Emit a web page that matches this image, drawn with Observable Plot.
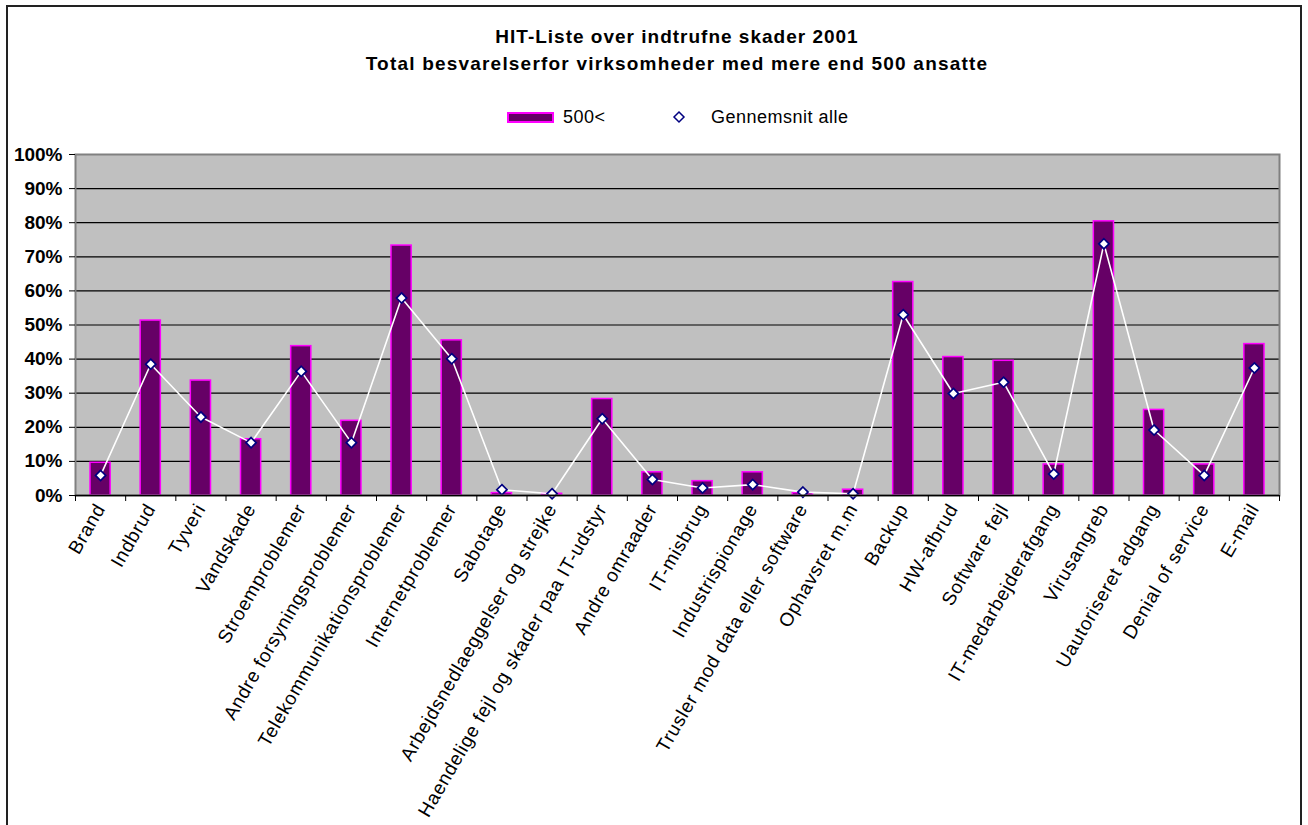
<!DOCTYPE html>
<html>
<head>
<meta charset="utf-8">
<script src="https://cdn.jsdelivr.net/npm/d3@7"></script>
<script src="https://cdn.jsdelivr.net/npm/@observablehq/plot@0.6"></script>
<style>
  html, body { margin: 0; padding: 0; background: #fff; }
  body { width: 1308px; height: 825px; position: relative; overflow: hidden;
         font-family: "Liberation Sans", Arial, sans-serif; color: #000; }
  #frame { position: absolute; left: 6px; top: 5px; width: 1296px; height: 840px;
           border: 2px solid #222; box-sizing: border-box; }
  .title { position: absolute; left: 75px; width: 1204px; text-align: center;
           font-weight: bold; font-size: 19px; line-height: 22px; letter-spacing: 1px; white-space: nowrap; }
  .leg { position: absolute; font-size: 18px; line-height: 22px; white-space: nowrap; letter-spacing: 0.5px; }
  #chart { position: absolute; left: 0; top: 140px; }
  g[aria-label="x-axis tick label"] text { letter-spacing: 0.7px; }
</style>
</head>
<body>
<div id="frame"></div>
<div class="title" style="top:26px">HIT-Liste over indtrufne skader 2001</div>
<div class="title" style="top:53px;letter-spacing:1.2px">Total besvarelserfor virksomheder med mere end 500 ansatte</div>
<div style="position:absolute;left:507px;top:112px;width:47px;height:11px;background:#660066;border:2px solid #ff00ff;box-sizing:border-box"></div>
<div class="leg" style="left:563px;top:106px">500&lt;</div>
<svg style="position:absolute;left:672px;top:110px" width="14" height="14"><path d="M7,2L12,7L7,12L2,7Z" fill="#fff" stroke="#000080" stroke-width="1.5"/></svg>
<div class="leg" style="left:711px;top:106px">Gennemsnit alle</div>
<div id="chart"></div>
<script>
const categories = [
  "Brand", "Indbrud", "Tyveri", "Vandskade", "Stroemproblemer",
  "Andre forsyningsproblemer", "Telekommunikationsproblemer", "Internetproblemer",
  "Sabotage", "Arbejdsnedlaeggelser og strejke", "Haendelige fejl og skader paa IT-udstyr",
  "Andre omraader", "IT-misbrug", "Industrispionage", "Trusler mod data eller software",
  "Ophavsret m.m", "Backup", "HW-afbrud", "Software fejl", "IT-medarbejderafgang",
  "Virusangreb", "Uautoriseret adgang", "Denial of service", "E-mail"
];
const values500 = [
  0.096, 0.513, 0.337, 0.165, 0.438, 0.219, 0.733, 0.455, 0.007, 0.005, 0.283, 0.068,
  0.042, 0.068, 0.007, 0.017, 0.626, 0.406, 0.395, 0.091, 0.804, 0.251, 0.091, 0.444
];
const avgAll = [
  0.059, 0.385, 0.230, 0.155, 0.364, 0.155, 0.579, 0.401, 0.017, 0.005, 0.225, 0.047,
  0.022, 0.032, 0.010, 0.005, 0.530, 0.299, 0.332, 0.063, 0.738, 0.192, 0.059, 0.374
];
const yTicks = [0, 0.1, 0.2, 0.3, 0.4, 0.5, 0.6, 0.7, 0.8, 0.9, 1.0];

const n = categories.length;
const rows = categories.map((c, i) => ({i, c, v: values500[i], a: avgAll[i]}));
const mid = d => d.i + 0.5;

const chart = Plot.plot({
  width: 1308,
  height: 685,
  marginTop: 14,
  marginLeft: 75,
  marginRight: 29,
  marginBottom: 330,
  style: {fontFamily: "'Liberation Sans', Arial, sans-serif", background: "transparent", overflow: "visible", color: "#000"},
  x: {type: "linear", domain: [0, n], axis: null},
  y: {domain: [0, 1], axis: null},
  marks: [
    Plot.frame({fill: "#c0c0c0", stroke: "none"}),
    Plot.gridY(yTicks, {stroke: "#000", strokeOpacity: 1, strokeWidth: 1.2}),
    Plot.rectY(rows, {x1: "i", x2: d => d.i + 1, y: "v", insetLeft: 15, insetRight: 15,
      fill: "#660066", stroke: "#ff00ff", strokeWidth: 1.5}),
    Plot.line(rows, {x: mid, y: "a", stroke: "#fff", strokeWidth: 1.6}),
    Plot.dot(rows, {x: mid, y: "a", symbol: "diamond2", r: 4.6, fill: "#fff", stroke: "#000080", strokeWidth: 1.7}),
    Plot.frame({stroke: "#808080", strokeWidth: 2}),
    Plot.ruleY([0], {stroke: "#000", strokeWidth: 1.5}),
    Plot.axisY(yTicks, {tickFormat: d3.format(".0%"), fontSize: 19, fontWeight: "bold",
      tickSize: 6, tickPadding: 7, label: null}),
    Plot.axisX(d3.range(0, n + 1), {tickSize: 6, tickFormat: () => "", label: null}),
    Plot.axisX(rows.map(mid), {tickSize: 0, tickPadding: 10, tickRotate: -60, fontSize: 19,
      tickFormat: v => categories[Math.floor(v)], label: null})
  ]
});
document.getElementById("chart").appendChild(chart);
</script>
</body>
</html>
